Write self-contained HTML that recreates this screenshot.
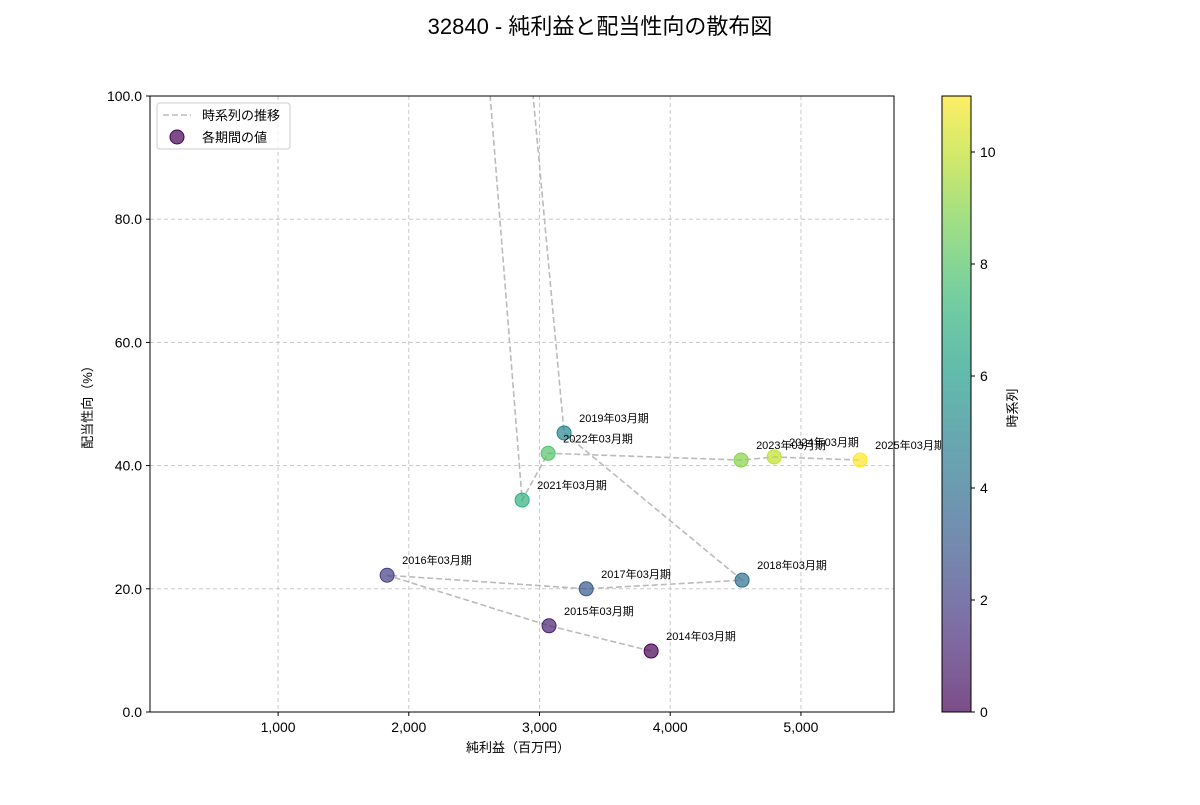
<!DOCTYPE html>
<html><head><meta charset="utf-8"><style>
body{margin:0;background:#fff}
svg{font-family:"Liberation Sans","Noto Sans CJK JP",sans-serif}
</style></head><body>
<svg id="c" width="1200" height="800" xmlns="http://www.w3.org/2000/svg"></svg>
<script>
const labels=["2014年03月期","2015年03月期","2016年03月期","2017年03月期","2018年03月期","2019年03月期","2020年03月期","2021年03月期","2022年03月期","2023年03月期","2024年03月期","2025年03月期"];
const profit=[3854,3073,1834,3357,4550,3188,590,2867,3066,4542,4795,5453];
const payout=[9.9,14.0,22.2,20.0,21.4,45.3,645,34.4,42.0,40.9,41.4,40.9];
const xTicks=[1000,2000,3000,4000,5000];
const yTicks=[0,20,40,60,80,100];
const cTicks=[0,2,4,6,8,10];
const L=150,R=894,T=96,B=712,X0=20,X1=5712,Y0=0,Y1=100;
const sx=v=>L+(v-X0)/(X1-X0)*(R-L), sy=v=>B-(v-Y0)/(Y1-Y0)*(B-T);
const vir=[[68,1,84],[72,40,120],[62,74,137],[49,104,142],[38,130,142],[31,158,137],[53,183,121],[109,205,89],[180,222,44],[253,231,37]];
function col(t){const p=t*(vir.length-1),i=Math.min(Math.floor(p),vir.length-2),f=p-i;const c=vir[i].map((a,k)=>Math.round(a+(vir[i+1][k]-a)*f));return `rgb(${c})`;}
const svg=document.getElementById('c');const NS="http://www.w3.org/2000/svg";
function el(tag,attrs,parent,text){const e=document.createElementNS(NS,tag);for(const k in attrs)e.setAttribute(k,attrs[k]);if(text!==undefined)e.textContent=text;(parent||svg).appendChild(e);return e;}
const defs=el('defs',{});const cp=el('clipPath',{id:'pc'},defs);el('rect',{x:L,y:T,width:R-L,height:B-T},cp);
const g=document.createElementNS(NS,'linearGradient');g.setAttribute('id','cg');g.setAttribute('x1','0');g.setAttribute('y1','1');g.setAttribute('x2','0');g.setAttribute('y2','0');defs.appendChild(g);
for(let i=0;i<=20;i++){el('stop',{offset:i/20,'stop-color':col(i/20),'stop-opacity':0.7},g);}
let t=el('text',{x:600,y:34,'text-anchor':'middle','font-size':22,fill:'#000'},svg,'32840 - 純利益と配当性向の散布図');
// grid
xTicks.forEach(v=>{const l=el('line',{x1:sx(v),x2:sx(v),y1:T,y2:B,stroke:'#c8c8c8','stroke-dasharray':'4,3'});});
yTicks.forEach(v=>{const l=el('line',{x1:L,x2:R,y1:sy(v),y2:sy(v),stroke:'#c8c8c8','stroke-dasharray':'4,3'});});
const pg=el('g',{'clip-path':'url(#pc)'});
const pts=profit.map((v,i)=>sx(v)+','+sy(payout[i])).join(' ');
const pl=el('polyline',{points:pts,fill:'none',stroke:'#bbb','stroke-width':1.6,'stroke-dasharray':'6,3'},pg);
profit.forEach((v,i)=>{const c=el('circle',{cx:sx(v),cy:sy(payout[i]),r:7,fill:col(i/11),'fill-opacity':0.7,stroke:col(i/11),'stroke-width':1},pg);});
profit.forEach((v,i)=>{const x=sx(v)+15,y=sy(payout[i])-15;if(y<T-10)return;const tx=el('text',{x:x,y:y+4,'font-size':11,fill:'#000'},svg,labels[i]);});
el('rect',{x:L,y:T,width:R-L,height:B-T,fill:'none',stroke:'#000','stroke-width':1});
xTicks.forEach(v=>{el('line',{x1:sx(v),x2:sx(v),y1:B,y2:B+4,stroke:'#000'});const tx=el('text',{x:sx(v),y:B+20,'text-anchor':'middle','font-size':14},svg,v.toLocaleString('en-US'));});
yTicks.forEach(v=>{el('line',{x1:L-4,x2:L,y1:sy(v),y2:sy(v),stroke:'#000'});const tx=el('text',{x:L-8,y:sy(v)+5,'text-anchor':'end','font-size':14},svg,v.toFixed(1));});
t=el('text',{x:518,y:752,'text-anchor':'middle','font-size':13},svg,'純利益（百万円）');
t=el('text',{x:92,y:404,'text-anchor':'middle','font-size':13,transform:'rotate(-90 92 404)'},svg,'配当性向（%）');
// legend
const lg=el('g',{});
el('rect',{x:157,y:103,width:133,height:46,rx:3,fill:'#fff','fill-opacity':0.8,stroke:'#ccc'},lg);
el('line',{x1:163,x2:191,y1:115,y2:115,stroke:'#bbb','stroke-width':1.6,'stroke-dasharray':'6,3'},lg);
el('text',{x:202,y:120,'font-size':13},lg,'時系列の推移');
el('circle',{cx:177,cy:137,r:7,fill:col(0),'fill-opacity':0.7,stroke:col(0)},lg);
el('text',{x:202,y:142,'font-size':13},lg,'各期間の値');
// colorbar
el('rect',{x:941,y:90,width:60,height:630,fill:'#fff'});
const cb=el('rect',{x:942,y:96,width:29,height:616,fill:'url(#cg)',stroke:'#000'});
cTicks.forEach(v=>{const y=712-v/11*616;el('line',{x1:971,x2:975,y1:y,y2:y,stroke:'#000'});const tx=el('text',{x:980,y:y+5,'font-size':14},svg,String(v));});
t=el('text',{x:1017,y:408,'text-anchor':'middle','font-size':13,transform:'rotate(-90 1017 408)'},svg,'時系列');
</script>
</body></html>
